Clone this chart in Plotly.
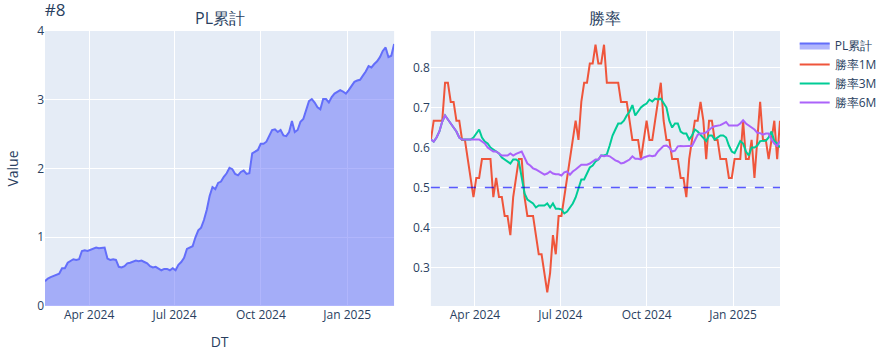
import pandas as pd
import plotly.graph_objects as go
from plotly.subplots import make_subplots

start_date = "2024-02-14"
end_date = "2025-02-20"

pl_cum = [
    0.36, 0.40, 0.42, 0.44, 0.46, 0.47, 0.55, 0.55, 0.63, 0.66,
    0.68, 0.67, 0.68, 0.80, 0.81, 0.80, 0.82, 0.84, 0.85, 0.84,
    0.85, 0.85, 0.69, 0.67, 0.68, 0.67, 0.57, 0.56, 0.58, 0.62,
    0.63, 0.65, 0.66, 0.65, 0.66, 0.64, 0.62, 0.58, 0.56, 0.57,
    0.55, 0.52, 0.54, 0.54, 0.52, 0.55, 0.52, 0.60, 0.64, 0.70,
    0.83, 0.85, 0.87, 1.00, 1.10, 1.14, 1.25, 1.40, 1.60, 1.73,
    1.70, 1.79, 1.81, 1.88, 1.93, 2.01, 1.99, 1.92, 1.90, 1.95,
    1.97, 1.92, 1.93, 2.22, 2.24, 2.27, 2.36, 2.36, 2.39, 2.48,
    2.56, 2.57, 2.53, 2.56, 2.48, 2.47, 2.53, 2.69, 2.53, 2.56,
    2.68, 2.72, 2.84, 2.98, 3.01, 2.96, 2.89, 2.86, 3.01, 3.01,
    2.96, 3.04, 3.09, 3.12, 3.14, 3.12, 3.09, 3.14, 3.21, 3.26,
    3.28, 3.29, 3.35, 3.41, 3.49, 3.47, 3.52, 3.56, 3.62, 3.71,
    3.76, 3.62, 3.64, 3.81,
]

win_1m = [
    0.619, 0.667, 0.667, 0.667, 0.667, 0.762, 0.762, 0.714, 0.714, 0.667,
    0.667, 0.619, 0.619, 0.571, 0.524, 0.476, 0.524, 0.524, 0.571, 0.571,
    0.571, 0.571, 0.476, 0.524, 0.476, 0.476, 0.429, 0.429, 0.381, 0.476,
    0.524, 0.571, 0.571, 0.476, 0.429, 0.429, 0.429, 0.381, 0.333, 0.333,
    0.286, 0.238, 0.286, 0.381, 0.333, 0.429, 0.429, 0.476, 0.524, 0.571,
    0.619, 0.667, 0.619, 0.714, 0.762, 0.762, 0.810, 0.810, 0.857, 0.810,
    0.810, 0.857, 0.762, 0.762, 0.762, 0.762, 0.762, 0.714, 0.714, 0.714,
    0.667, 0.619, 0.619, 0.619, 0.571, 0.619, 0.667, 0.619, 0.619, 0.667,
    0.714, 0.762, 0.667, 0.619, 0.619, 0.571, 0.571, 0.571, 0.524, 0.524,
    0.476, 0.571, 0.619, 0.667, 0.667, 0.714, 0.667, 0.571, 0.667, 0.667,
    0.619, 0.619, 0.571, 0.571, 0.571, 0.524, 0.524, 0.571, 0.571, 0.571,
    0.667, 0.571, 0.571, 0.619, 0.524, 0.619, 0.714, 0.619, 0.619, 0.571,
    0.619, 0.667, 0.571, 0.667,
]

win_3m = [
    0.620, 0.615, 0.625, 0.640, 0.665, 0.680, 0.670, 0.660, 0.650, 0.640,
    0.625, 0.620, 0.620, 0.620, 0.620, 0.625, 0.635, 0.645, 0.625, 0.615,
    0.610, 0.600, 0.595, 0.590, 0.585, 0.575, 0.570, 0.565, 0.560, 0.570,
    0.570, 0.565, 0.520, 0.485, 0.470, 0.465, 0.460, 0.450, 0.455, 0.455,
    0.455, 0.460, 0.450, 0.460, 0.447, 0.447, 0.445, 0.435, 0.440, 0.450,
    0.460, 0.475, 0.500, 0.520, 0.520, 0.535, 0.550, 0.555, 0.565, 0.570,
    0.580, 0.580, 0.583, 0.605, 0.630, 0.645, 0.660, 0.660, 0.667, 0.680,
    0.690, 0.706, 0.680, 0.690, 0.700, 0.706, 0.710, 0.720, 0.715, 0.722,
    0.720, 0.722, 0.712, 0.700, 0.667, 0.650, 0.660, 0.660, 0.640, 0.635,
    0.635, 0.620, 0.630, 0.645, 0.640, 0.632, 0.622, 0.616, 0.630, 0.630,
    0.620, 0.625, 0.630, 0.630, 0.625, 0.605, 0.590, 0.586, 0.600, 0.616,
    0.610, 0.590, 0.580, 0.600, 0.600, 0.605, 0.616, 0.616, 0.617, 0.625,
    0.640, 0.616, 0.610, 0.600,
]

win_6m = [
    0.620, 0.615, 0.625, 0.640, 0.665, 0.680, 0.670, 0.660, 0.650, 0.640,
    0.625, 0.620, 0.620, 0.620, 0.620, 0.620, 0.620, 0.620, 0.615, 0.610,
    0.600, 0.595, 0.590, 0.590, 0.585, 0.580, 0.580, 0.580, 0.585, 0.580,
    0.584, 0.588, 0.590, 0.575, 0.560, 0.555, 0.548, 0.545, 0.540, 0.535,
    0.532, 0.535, 0.540, 0.535, 0.533, 0.533, 0.530, 0.538, 0.540, 0.532,
    0.540, 0.545, 0.550, 0.557, 0.557, 0.557, 0.560, 0.565, 0.570, 0.570,
    0.580, 0.578, 0.580, 0.578, 0.572, 0.568, 0.565, 0.560, 0.562, 0.565,
    0.570, 0.578, 0.572, 0.572, 0.570, 0.575, 0.578, 0.580, 0.578, 0.580,
    0.590, 0.597, 0.604, 0.605, 0.600, 0.590, 0.592, 0.603, 0.604, 0.603,
    0.604, 0.604, 0.604, 0.618, 0.632, 0.635, 0.635, 0.638, 0.645, 0.650,
    0.653, 0.655, 0.656, 0.660, 0.664, 0.655, 0.655, 0.655, 0.655, 0.660,
    0.668, 0.660, 0.655, 0.650, 0.645, 0.637, 0.636, 0.632, 0.635, 0.635,
    0.620, 0.610, 0.604, 0.617,
]

threshold = 0.5


def dates_for(values):
    return pd.date_range(start_date, end_date, periods=len(values))


fig = make_subplots(rows=1, cols=2, subplot_titles=("PL累計", "勝率"),
                    horizontal_spacing=0.05)

fig.add_trace(go.Scatter(x=dates_for(pl_cum), y=pl_cum, name="PL累計",
                         mode="lines", fill="tozeroy"), row=1, col=1)
fig.add_trace(go.Scatter(x=dates_for(win_1m), y=win_1m, name="勝率1M",
                         mode="lines", line=dict(color="#EF553B")), row=1, col=2)
fig.add_trace(go.Scatter(x=dates_for(win_3m), y=win_3m, name="勝率3M",
                         mode="lines", line=dict(color="#00CC96")), row=1, col=2)
fig.add_trace(go.Scatter(x=dates_for(win_6m), y=win_6m, name="勝率6M",
                         mode="lines", line=dict(color="#AB63FA")), row=1, col=2)

fig.add_hline(y=threshold, line_dash="dash", line_color="rgba(0,0,255,0.65)",
              line_width=1.5, row=1, col=2)

fig.update_xaxes(title_text="DT", row=1, col=1)
fig.update_yaxes(title_text="Value", range=[0, 4], row=1, col=1)

fig.update_layout(
    template="plotly",
    title=dict(text="#8"),
    width=894,
    height=360,
    margin=dict(l=43, r=113, t=31, b=52),
)

fig.write_html(
    "out.html",
    config={"displayModeBar": False},
    post_script="document.body.style.margin='0px';document.body.style.overflow='hidden';",
)
